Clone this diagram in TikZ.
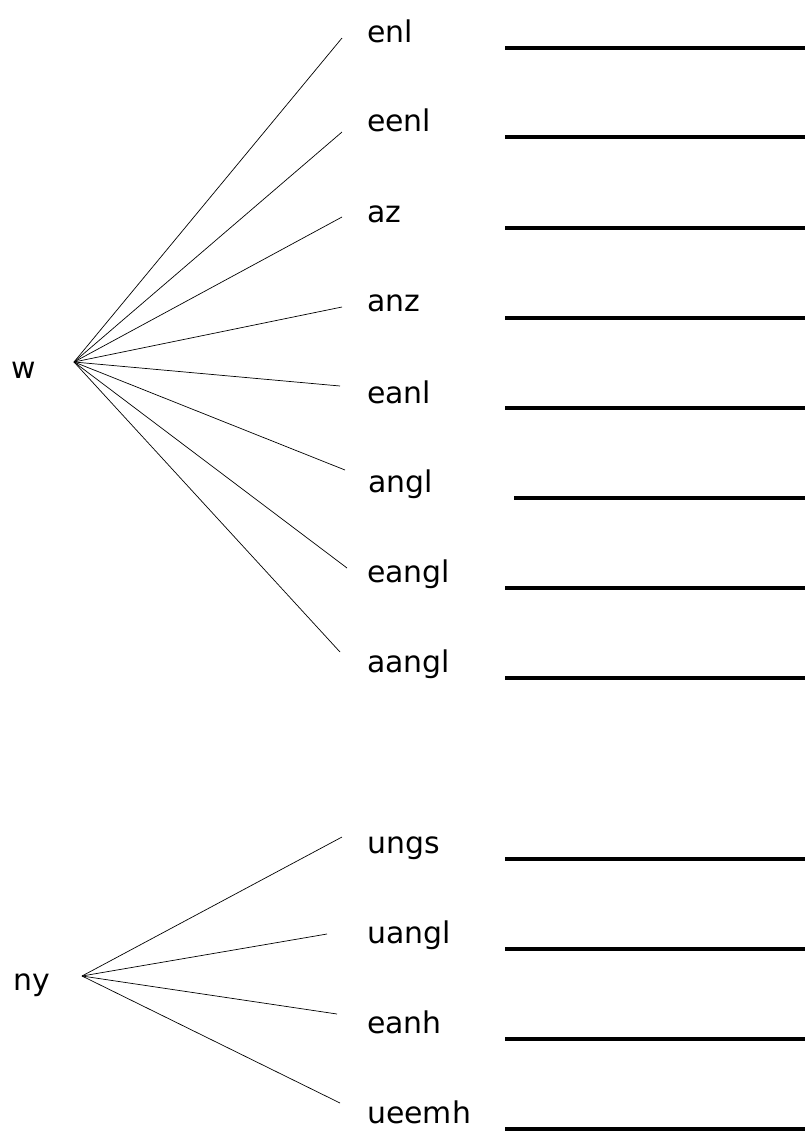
\documentclass[tikz,border=0pt]{standalone}
\usepackage{fontspec}
\setmainfont{DejaVu Sans}
\begin{document}
\begin{tikzpicture}[x=1bp,y=-1bp,
  lbl/.style={anchor=base west,inner sep=0pt,font=\fontsize{30}{34}\selectfont},
  conn/.style={draw,line width=0.7bp},
  blank/.style={draw,line width=3.2bp}]
\useasboundingbox (0,0) rectangle (805,1131);
% roots
\node[lbl] (w) at (11,378) {w};
\coordinate (wa) at (74,362);
\node[lbl] (ny) at (13,990) {ny};
\coordinate (na) at (82,976);
% word labels
\node[lbl] (t1) at (367,42) {enl};
\node[lbl] (t2) at (367,131) {eenl};
\node[lbl] (t3) at (367,222) {az};
\node[lbl] (t4) at (367,311) {anz};
\node[lbl] (t5) at (367,403) {eanl};
\node[lbl] (t6) at (368,492) {angl};
\node[lbl] (t7) at (367,582) {eangl};
\node[lbl] (t8) at (367,672) {aangl};
\node[lbl] (u1) at (367,853) {ungs};
\node[lbl] (u2) at (367,943) {uangl};
\node[lbl] (u3) at (367,1033) {eanh};
\node[lbl] (u4) at (367,1123) {ueemh};
% connector ends
\coordinate (e1) at (342,38);
\coordinate (e2) at (342,132);
\coordinate (e3) at (342,217);
\coordinate (e4) at (342,307);
\coordinate (e5) at (340,386);
\coordinate (e6) at (345,470);
\coordinate (e7) at (347,568);
\coordinate (e8) at (340,652);
\coordinate (f1) at (342,837);
\coordinate (f2) at (327,934);
\coordinate (f3) at (337,1014);
\coordinate (f4) at (340,1103);
\foreach \e in {e1,e2,e3,e4,e5,e6,e7,e8} \draw[conn] (wa) -- (\e);
\foreach \f in {f1,f2,f3,f4} \draw[conn] (na) -- (\f);
% answer blanks
\foreach \y/\x in {48/505,137/505,228/505,318/505,408/505,498/514,588/505,678/505,859/505,949/505,1039/505,1129/505}
  \draw[blank] (\x,\y) -- (805,\y);
\end{tikzpicture}
\end{document}
